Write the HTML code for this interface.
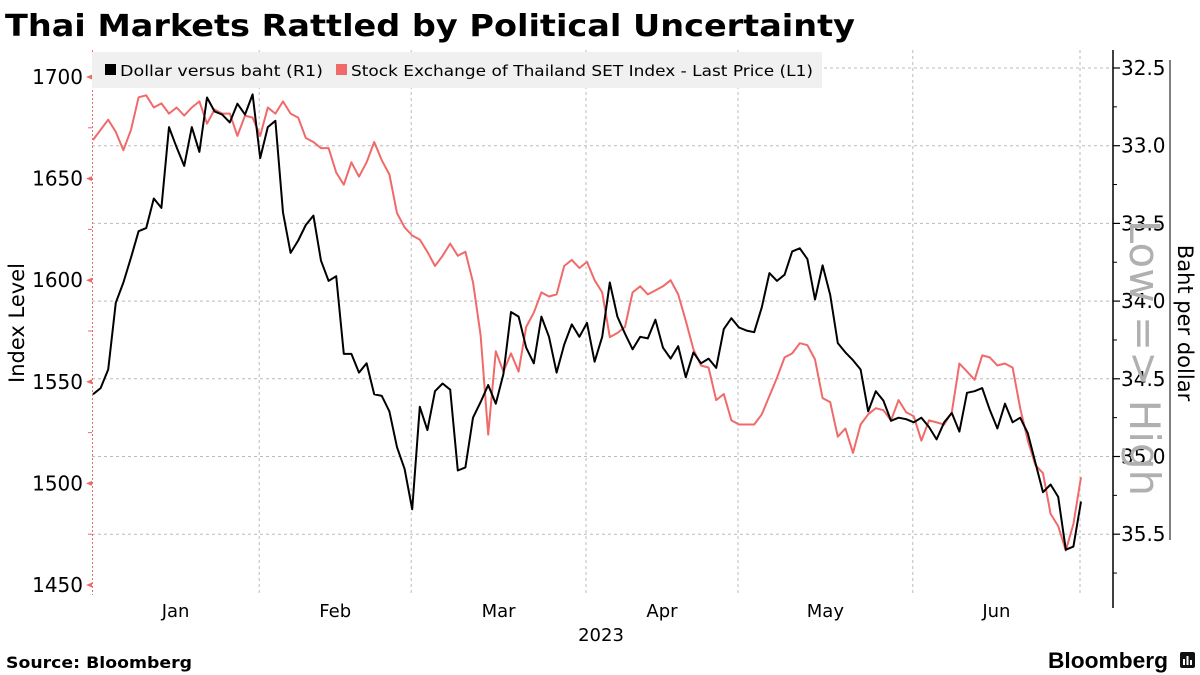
<!DOCTYPE html>
<html><head><meta charset="utf-8">
<style>
html,body{margin:0;padding:0;background:#fff;}
svg{display:block;font-family:"DejaVu Sans","Liberation Sans",sans-serif;}
</style></head>
<body>
<svg id="chart" width="1200" height="675" viewBox="0 0 1200 675" xmlns="http://www.w3.org/2000/svg">
<text x="5" y="36" font-size="30" font-weight="bold" textLength="850" lengthAdjust="spacingAndGlyphs">Thai Markets Rattled by Political Uncertainty</text>
<g id="grid"></g>
<g id="axes"></g>
<rect x="92" y="52" width="730" height="36" fill="#f0f0f0"/>
<text transform="translate(1130,358) rotate(90)" text-anchor="middle" font-size="42" fill="#b0b0b0">Low =&gt; High</text>
<g id="series"></g>
<g>
 <rect x="105" y="64" width="11" height="11" fill="#000"/>
 <text x="120" y="76" font-size="15" textLength="203" lengthAdjust="spacingAndGlyphs">Dollar versus baht (R1)</text>
 <rect x="336" y="64" width="11" height="11" fill="#f06a6a"/>
 <text x="351" y="76" font-size="15" textLength="462" lengthAdjust="spacingAndGlyphs">Stock Exchange of Thailand SET Index - Last Price (L1)</text>
</g>
<text transform="translate(24,323) rotate(-90)" text-anchor="middle" font-size="21">Index Level</text>
<text transform="translate(1178,323) rotate(90)" text-anchor="middle" font-size="21">Baht per dollar</text>
<line x1="1170" y1="60" x2="1170" y2="540" stroke="#000" stroke-width="1"/>
<text x="601" y="641" text-anchor="middle" font-size="18">2023</text>
<text x="6" y="668" font-size="16" font-weight="bold" textLength="186" lengthAdjust="spacingAndGlyphs">Source: Bloomberg</text>
<text x="1048" y="668" font-family="Liberation Sans, sans-serif" font-size="22" font-weight="bold" textLength="120" lengthAdjust="spacingAndGlyphs">Bloomberg</text>
<g>
 <rect x="1180" y="652" width="15" height="16" rx="2" fill="#111"/>
 <rect x="1183" y="659" width="2" height="6" fill="#fff"/><rect x="1186.5" y="656" width="2" height="9" fill="#fff"/><rect x="1190" y="660" width="2" height="5" fill="#fff"/>
</g>
</svg>
<script>
const setValues=[1669,1674,1679,1673,1664,1674,1690,1691,1685,1687,1682,1685,1681,1685,1688,1677,1684,1682,1682,1671,1681,1680,1671,1685,1682,1688,1682,1680,1670,1668,1665,1665,1653,1647,1658,1651,1658,1668,1659,1652,1633,1626,1622,1620,1614,1607,1612,1618,1612,1614,1599,1573,1524,1565,1555,1564,1555,1577,1584,1594,1592,1593,1607,1610,1606,1609,1600,1594,1572,1574,1577,1594,1597,1593,1595,1597,1600,1593,1580,1566,1558,1557,1541,1544,1531,1529,1529,1529,1534,1543,1552,1562,1564,1569,1568,1561,1542,1540,1523,1527,1515,1529,1534,1537,1536,1531,1541,1535,1533,1521,1531,1530,1529,1535,1559,1555,1551,1563,1562,1558,1559,1557,1537,1521,1509,1505,1485,1479,1467,1480,1503];
const usdThbValues=[34.60,34.56,34.44,34.01,33.88,33.72,33.55,33.53,33.34,33.40,32.88,33.01,33.13,32.88,33.04,32.69,32.78,32.80,32.85,32.73,32.80,32.67,33.08,32.88,32.84,33.43,33.69,33.61,33.51,33.45,33.74,33.87,33.84,34.34,34.34,34.46,34.40,34.60,34.61,34.71,34.94,35.08,35.34,34.68,34.83,34.58,34.53,34.57,35.09,35.07,34.75,34.65,34.54,34.66,34.47,34.07,34.10,34.30,34.40,34.10,34.23,34.46,34.28,34.15,34.23,34.14,34.39,34.23,33.88,34.10,34.21,34.31,34.23,34.24,34.12,34.30,34.37,34.29,34.49,34.33,34.40,34.37,34.43,34.18,34.11,34.17,34.19,34.20,34.04,33.82,33.87,33.83,33.68,33.66,33.73,33.99,33.77,33.96,34.27,34.33,34.38,34.44,34.71,34.58,34.64,34.77,34.75,34.76,34.78,34.75,34.81,34.89,34.78,34.72,34.84,34.59,34.58,34.56,34.70,34.82,34.66,34.78,34.75,34.85,35.04,35.23,35.18,35.26,35.60,35.58,35.29];
const monthLabels=["Jan","Feb","Mar","Apr","May","Jun"];
const monthTradingDays=[22,20,23,20,23,22];
const leftTicks=[1450,1500,1550,1600,1650,1700];
const leftMinorTicks=[1475,1525,1575,1625,1675];
const rightTicks=[32.5,33.0,33.5,34.0,34.5,35.0,35.5];
const rightMinorTicks=[32.75,33.25,33.75,34.25,34.75,35.25,35.75];

const NS="http://www.w3.org/2000/svg";
const xL=92,xR=1113,step=7.6;
function xPos(i){return 93+i*step;}
function yLeft(v){return 77+(1700-v)*101.6/50;}
function yRight(v){return 68+(v-32.5)*77.7/0.5;}
function mk(tag,attrs,parent){const e=document.createElementNS(NS,tag);for(const k in attrs)e.setAttribute(k,attrs[k]);parent.appendChild(e);return e;}
const grid=document.getElementById('grid'),axes=document.getElementById('axes'),series=document.getElementById('series');

rightTicks.forEach(v=>{
 const l=mk('line',{x1:xL,x2:xR,y1:yRight(v),y2:yRight(v),stroke:'#bbb','stroke-dasharray':'3,3','stroke-width':1},grid);
 
 
});
let cum=0;
monthLabels.forEach((m,k)=>{
 const start=cum; cum+=monthTradingDays[k];
 const xb=92+cum*step;
 const g=mk('line',{x1:xb,x2:xb,y1:50,y2:595,stroke:'#bbb','stroke-dasharray':'3,3','stroke-width':1},grid);
 
 
 const t=mk('text',{x:92+(start+cum)/2*step,y:617,'text-anchor':'middle','font-size':18},axes);
 t.textContent=m;
 
 
});
const la=mk('line',{x1:92.5,x2:92.5,y1:50,y2:595,stroke:'#f06a6a','stroke-dasharray':'2,2','stroke-width':1},axes);


leftTicks.forEach(v=>{
 const y=yLeft(v);
 const p=mk('path',{d:`M92 ${y-2.5} L86 ${y} L92 ${y+2.5} Z`,fill:'#f06a6a'},axes);
 
 
 const t=mk('text',{x:83,y:y+7,'text-anchor':'end','font-size':20},axes);
 t.textContent=v;
 
 
});
leftMinorTicks.forEach(v=>{
 const y=yLeft(v);
 const l=mk('line',{x1:88,x2:92,y1:y,y2:y,stroke:'#f06a6a','stroke-width':1},axes);
 
 
});
const ra=mk('line',{x1:xR,x2:xR,y1:50,y2:608,stroke:'#000','stroke-width':1.5},axes);


rightTicks.forEach(v=>{
 const y=yRight(v);
 const l=mk('line',{x1:xR,x2:xR+7,y1:y,y2:y,stroke:'#000','stroke-width':1.2},axes);
 
 
 const t=mk('text',{x:xR+8,y:y+7,'font-size':20},axes);
 t.textContent=v.toFixed(1);
 
 
});
rightMinorTicks.forEach(v=>{
 const y=yRight(v);
 const l=mk('line',{x1:xR,x2:xR+4,y1:y,y2:y,stroke:'#000','stroke-width':1},axes);
 
 
});
const setPath=mk('path',{d:setValues.map((v,i)=>(i?'L':'M')+xPos(i).toFixed(1)+' '+yLeft(v).toFixed(1)).join(' '),fill:'none',stroke:'#f06a6a','stroke-width':2,'stroke-linejoin':'round'},series);


const fxPath=mk('path',{d:usdThbValues.map((v,i)=>(i?'L':'M')+xPos(i).toFixed(1)+' '+yRight(v).toFixed(1)).join(' '),fill:'none',stroke:'#000','stroke-width':2,'stroke-linejoin':'round'},series);


</script>
</body></html>
